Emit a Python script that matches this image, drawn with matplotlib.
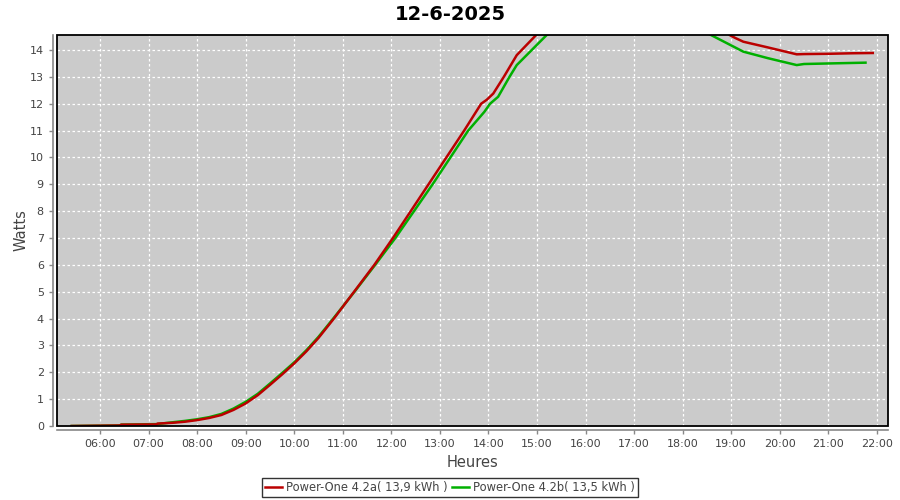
import matplotlib
matplotlib.use("Agg")
import matplotlib.pyplot as plt
import matplotlib.patches as mpatches

# ─── data ───────────────────────────────────────────────────────────────────
TITLE = "12-6-2025"

red_times = ["05:25", "06:25", "06:26", "07:10", "07:11", "07:30", "07:45", "08:00",
             "08:15", "08:30", "08:45", "09:00", "09:15", "09:30", "09:45", "10:00",
             "10:15", "10:30", "10:49", "11:14", "11:39", "12:02", "12:24", "12:46",
             "13:08", "13:30", "13:51", "13:58", "14:06", "14:19", "14:35",
             "14:43", "14:59", "15:30", "16:30", "17:30", "18:30", "18:50", "18:58",
             "19:05", "19:15", "19:45", "20:21", "20:30", "21:00", "21:30", "21:55"]
red_values = [0.0, 0.02, 0.05, 0.06, 0.09, 0.12, 0.16, 0.22,
              0.30, 0.41, 0.60, 0.84, 1.15, 1.53, 1.92, 2.33,
              2.78, 3.28, 4.00, 5.00, 6.00, 7.00, 8.00, 9.00,
              10.0, 11.0, 12.0, 12.15, 12.38, 13.0, 13.81,
              14.06, 14.56, 15.3, 15.9, 15.9, 15.3, 14.8, 14.56,
              14.45, 14.31, 14.10, 13.84, 13.85, 13.86, 13.88, 13.89]

green_times = ["05:25", "06:25", "06:26", "07:10", "07:30", "07:45", "08:00", "08:15",
               "08:30", "08:45", "09:00", "09:15", "09:30", "09:45", "10:00", "10:15",
               "10:30", "10:49", "11:15", "11:40", "12:05", "12:28", "12:51", "13:13",
               "13:35", "13:55", "14:02", "14:12", "14:26", "14:35", "15:12", "15:45",
               "16:30", "17:30", "18:00", "18:35", "19:15", "19:45", "20:21", "20:30",
               "21:00", "21:46"]
green_values = [0.0, 0.02, 0.05, 0.07, 0.14, 0.19, 0.25, 0.33,
                0.45, 0.65, 0.90, 1.20, 1.58, 1.97, 2.37, 2.82,
                3.32, 4.03, 5.02, 6.0, 7.0, 8.0, 9.0, 10.0,
                11.0, 11.7, 12.0, 12.26, 13.0, 13.44, 14.56, 15.0,
                15.5, 15.4, 15.1, 14.56, 13.94, 13.70, 13.44, 13.48,
                13.50, 13.53]

red_label = "Power-One 4.2a( 13,9 kWh )"
green_label = "Power-One 4.2b( 13,5 kWh )"

hour_ticks = list(range(6, 23))
watt_ticks = list(range(0, 15))


def to_hours(hhmm):
    h, m = hhmm.split(":")
    return int(h) + int(m) / 60


RED = "#bb0000"
GREEN = "#00b000"
TXT = "#444444"

fig = plt.figure(figsize=(9, 5), dpi=100)
ax = fig.add_axes([57 / 900, 1 - 426 / 500, 831 / 900, 391 / 500])
ax.set_facecolor("#cbcbcb")

ax.plot([to_hours(t) for t in red_times], red_values, color=RED, lw=1.8,
        label=red_label, zorder=3)
ax.plot([to_hours(t) for t in green_times], green_values, color=GREEN, lw=1.8,
        label=green_label, zorder=2)

ax.set_xlim(5.114, 22.23)
ax.set_ylim(0, 14.56)
ax.set_xticks(hour_ticks)
ax.set_xticklabels([f"{h:02d}:00" for h in hour_ticks])
ax.set_yticks(watt_ticks)

ax.grid(True, color="white", lw=0.9, linestyle=(0, (2, 2)))
ax.set_axisbelow(True)

# offset gray axis lines, black plot frame
for side in ("top", "right"):
    ax.spines[side].set_visible(False)
for side in ("left", "bottom"):
    ax.spines[side].set_position(("outward", 3))
    ax.spines[side].set_color("#888888")
    ax.spines[side].set_linewidth(1.2)
ax.add_patch(mpatches.Rectangle((0, 0), 1, 1, transform=ax.transAxes, fill=False,
                                edgecolor="black", lw=1.3, clip_on=False, zorder=5))

ax.tick_params(colors="#888888", labelcolor=TXT, labelsize=8, length=3, width=1)

ax.set_xlabel("Heures", color=TXT, fontsize=10.5, labelpad=4)
ax.set_ylabel("Watts", color=TXT, fontsize=10.5, labelpad=1)
fig.text(0.5, 1 - 14 / 500, TITLE, ha="center", va="center",
         fontsize=14, fontweight="bold", color="black")

leg = fig.legend(loc="center", bbox_to_anchor=(0.5, 1 - 487.5 / 500), ncol=2,
                 fontsize=8.3, frameon=True, fancybox=False, edgecolor="black",
                 handlelength=1.5, handletextpad=0.3, columnspacing=0.4,
                 borderpad=0.3, labelcolor=TXT)
leg.get_frame().set_linewidth(1.0)

fig.savefig("out.png", dpi=100, facecolor="white")
